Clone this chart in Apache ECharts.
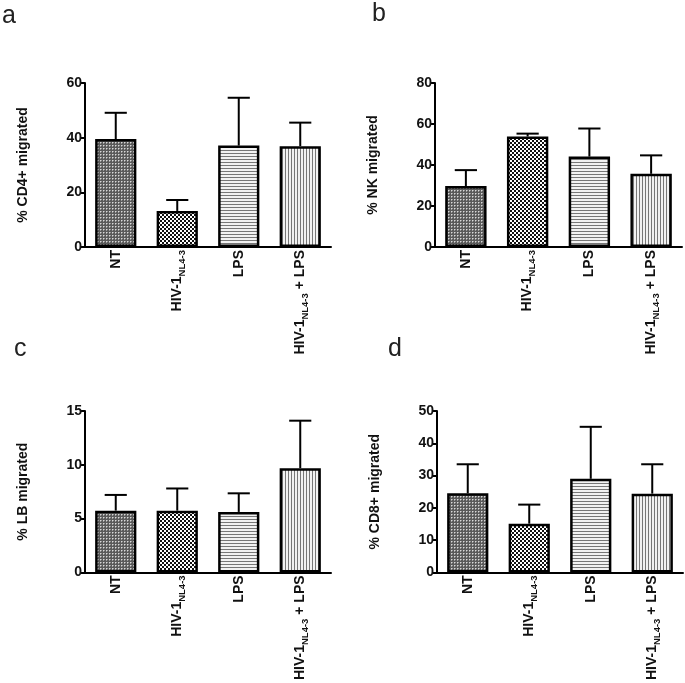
<!DOCTYPE html>
<html>
<head>
<meta charset="utf-8">
<script src="https://cdn.jsdelivr.net/npm/echarts@6/dist/echarts.min.js"></script>
<style>
html,body{margin:0;padding:0;background:#fff;}
#chart{width:685px;height:683px;}
</style>
</head>
<body>
<div id="chart"></div>
<script>
// ---- data ----
const categories = ['NT', 'HIV-1|NL4-3', 'LPS', 'HIV-1|NL4-3| + LPS'];
const cd4Means = [39.5, 13.2, 37.1, 36.9];
const cd4Tops  = [49.1, 17.2, 54.6, 45.5];
const nkMeans  = [29.7, 53.9, 44.1, 35.7];
const nkTops   = [37.5, 55.3, 57.8, 44.7];
const lbMeans  = [5.74, 5.74, 5.62, 9.69];
const lbTops   = [7.2, 7.8, 7.35, 14.1];
const cd8Means = [24.5, 15.1, 29.0, 24.4];
const cd8Tops  = [33.5, 21.0, 45.1, 33.5];
const yNames = ['% CD4+ migrated', '% NK migrated', '% LB migrated', '% CD8+ migrated'];
const yMax = [60, 80, 15, 50];
const yInterval = [20, 20, 5, 10];
const panelLetters = ['a', 'b', 'c', 'd'];

// ---- patterns ----
function makeTile(w, h, draw) {
  const c = document.createElement('canvas');
  c.width = w; c.height = h;
  const ctx = c.getContext('2d');
  draw(ctx);
  return c;
}
const patNT = makeTile(3, 3, ctx => {
  ctx.fillStyle = '#5a5a5a'; ctx.fillRect(0, 0, 3, 3);
  ctx.fillStyle = '#d8d8d8'; ctx.fillRect(1, 1, 1, 1);
  ctx.fillStyle = '#9a9a9a'; ctx.fillRect(2, 1, 1, 1); ctx.fillRect(1, 2, 1, 1);
});
const patHIV = makeTile(4, 4, ctx => {
  ctx.fillStyle = '#ffffff'; ctx.fillRect(0, 0, 4, 4);
  ctx.fillStyle = '#111111'; ctx.fillRect(0, 0, 2, 2); ctx.fillRect(2, 2, 2, 2);
});
const patLPS = makeTile(3, 3, ctx => {
  ctx.fillStyle = '#f2f2f2'; ctx.fillRect(0, 0, 3, 3);
  ctx.fillStyle = '#777777'; ctx.fillRect(0, 0, 3, 1);
});
const patCombo = makeTile(3, 3, ctx => {
  ctx.fillStyle = '#f2f2f2'; ctx.fillRect(0, 0, 3, 3);
  ctx.fillStyle = '#777777'; ctx.fillRect(0, 0, 1, 3);
});
const patterns = [patNT, patHIV, patLPS, patCombo];

const means = [cd4Means, nkMeans, lbMeans, cd8Means];
const tops = [cd4Tops, nkTops, lbTops, cd8Tops];

const grids = [
  {left: 85, top: 83, width: 246, height: 164},
  {left: 435, top: 83, width: 247, height: 164},
  {left: 85, top: 411, width: 246, height: 165},
  {left: 437, top: 411, width: 246, height: 165}
];
const letterPos = [[2, 22], [372, 20], [14, 355], [388, 355]];

const FONT = '"Liberation Sans", Arial, sans-serif';

function catFormatter(v) {
  const parts = v.split('|');
  if (parts.length === 1) return '{b|' + v + '}';
  let s = '{b|' + parts[0] + '}{s|' + parts[1] + '}';
  if (parts[2]) s += '{b|' + parts[2] + '}';
  return s;
}

const xAxes = [], yAxes = [], series = [];
for (let i = 0; i < 4; i++) {
  xAxes.push({
    type: 'category', gridIndex: i, data: categories,
    axisLine: {lineStyle: {color: '#000', width: 2}},
    axisTick: {alignWithLabel: true, length: 4, lineStyle: {color: '#000', width: 2}},
    axisLabel: {
      rotate: 90, margin: 3, interval: 0, formatter: catFormatter,
      rich: {
        b: {fontFamily: FONT, fontWeight: 'bold', fontSize: 14, color: '#111', lineHeight: 20, verticalAlign: 'middle'},
        s: {fontFamily: FONT, fontWeight: 'bold', fontSize: 9.5, color: '#111', lineHeight: 11, verticalAlign: 'bottom'}
      }
    },
    splitLine: {show: false}
  });
  yAxes.push({
    type: 'value', gridIndex: i, min: 0, max: yMax[i], interval: yInterval[i],
    name: yNames[i], nameLocation: 'middle', nameGap: 55,
    nameTextStyle: {fontFamily: FONT, fontWeight: 'bold', fontSize: 14, color: '#111'},
    axisLine: {show: true, lineStyle: {color: '#000', width: 2}},
    axisTick: {show: true, length: 4, lineStyle: {color: '#000', width: 2}},
    axisLabel: {fontFamily: FONT, fontWeight: 'bold', fontSize: 14, color: '#111', margin: 3},
    splitLine: {show: false}
  });
  series.push({
    type: 'bar', xAxisIndex: i, yAxisIndex: i, barWidth: '67%',
    data: means[i].map((v, k) => ({
      value: v,
      itemStyle: {color: {image: patterns[k], repeat: 'repeat'}, borderColor: '#000', borderWidth: 2.5}
    })),
    z: 2
  });
  series.push({
    type: 'custom', xAxisIndex: i, yAxisIndex: i, z: 3,
    data: means[i].map((v, k) => [k, v, tops[i][k]]),
    encode: {x: 0, y: [1, 2]},
    renderItem: function (params, api) {
      const base = api.coord([api.value(0), api.value(1)]);
      const top = api.coord([api.value(0), api.value(2)]);
      const half = api.size([1, 0])[0] * 0.18;
      const st = {stroke: '#000', lineWidth: 2};
      return {
        type: 'group',
        children: [
          {type: 'line', shape: {x1: base[0], y1: base[1], x2: top[0], y2: top[1]}, style: st},
          {type: 'line', shape: {x1: top[0] - half, y1: top[1], x2: top[0] + half, y2: top[1]}, style: st}
        ]
      };
    }
  });
}

const graphics = panelLetters.map((t, i) => ({
  type: 'text', left: letterPos[i][0], top: letterPos[i][1] - 18,
  style: {text: t, fontFamily: FONT, fontSize: 25, fill: '#222'}
}));

const chart = echarts.init(document.getElementById('chart'), null, {renderer: 'canvas'});
chart.setOption({
  animation: false,
  backgroundColor: '#fff',
  grid: grids,
  xAxis: xAxes,
  yAxis: yAxes,
  series: series,
  graphic: graphics
});
</script>
</body>
</html>
